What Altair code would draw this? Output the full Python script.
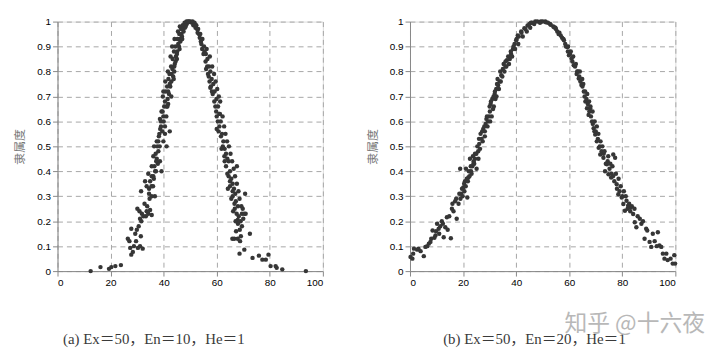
import altair as alt
import pandas as pd

# Panel (a): Ex=50, En=10, He=1
a_x = [12.5, 16.2, 19.4, 20.3, 21.8, 23.9, 26.5, 27.1, 27.4, 27.8, 28.4, 27.8, 29.3, 29.9, 30.3, 31.1, 32.1,
       30.1, 30.9, 31.1, 31.8, 32.8, 33.3, 33.6, 34.2, 34.9, 35.5, 31.5, 33.0, 33.6, 34.2, 34.5, 34.9, 35.5,
       36.1, 36.7, 37.1, 35.5, 36.1, 36.4, 37.4, 38.0, 38.6, 39.2, 37.4, 38.4, 39.0, 39.9, 40.5, 41.1, 38.6,
       39.2, 39.9, 40.5, 39.7, 41.1, 41.7, 42.3, 42.9, 41.7, 42.3, 42.9, 43.6, 43.3, 44.2, 44.6, 45.1, 45.5,
       46.1, 46.7, 47.3, 48.3, 49.2, 50.4, 51.7, 52.6, 53.3, 54.0, 54.5, 55.0, 55.8, 56.0, 56.7, 57.3, 57.6,
       58.5, 59.1, 59.8, 60.4, 61.0, 61.6, 62.3, 62.9, 63.5, 64.5, 65.0, 66.0, 66.7, 67.5, 67.9, 68.7, 69.1,
       66.6, 67.9, 68.6, 70.4, 72.5, 70.7, 70.9, 67.6, 73.5, 75.9, 77.2, 78.5, 79.5, 80.3, 82.2, 82.6, 84.7,
       93.6,
       44.0, 44.5, 45.0, 45.8, 46.3, 46.9, 47.5, 48.0, 48.7, 49.5, 50.0, 50.8, 51.2, 52.0, 52.8, 53.6, 54.2,
       55.4, 56.4, 57.0, 57.8, 58.2, 59.5, 60.0, 43.0, 42.5, 42.0, 41.5, 44.0, 45.0, 46.0, 47.0, 43.8, 41.0,
       40.0, 40.5, 39.5, 38.0, 38.5, 37.0, 37.8, 36.5, 35.5, 36.0, 34.5, 60.7, 61.5, 62.0, 62.5, 63.0, 63.5,
       64.0, 64.5, 65.0, 65.5, 66.0, 66.5, 67.0, 67.2, 68.0, 68.3, 69.0, 69.5, 61.0, 60.0, 61.8, 63.0, 64.0,
       65.0, 66.0, 64.2, 65.5, 66.8, 68.0, 67.3, 69.5, 70.0,
       40.8, 41.3, 41.8, 42.2, 42.8, 43.4, 43.9, 44.4, 45.2, 45.9, 46.6, 47.2, 47.9, 48.6, 49.2, 42.6, 43.2,
       44.1, 45.4, 46.1, 41.6, 40.6, 39.9, 40.2, 41.4, 39.6, 39.0, 38.7, 38.2, 37.6, 37.2, 36.8, 36.3, 35.4,
       34.7, 33.8, 32.4, 31.6, 30.6, 29.6, 28.8, 31.4,
       50.9, 51.6, 52.3, 53.0, 53.8, 54.6, 55.2, 55.9, 56.5, 57.1, 57.6, 58.1, 58.7, 59.2, 59.9, 60.5, 61.2,
       56.2, 57.4, 58.3, 59.0, 59.6, 60.2, 60.8, 61.3, 62.2, 62.8, 63.3, 63.9, 64.6, 65.2, 65.8, 66.4, 66.9,
       67.6, 68.2, 68.6, 69.3, 69.8, 70.3, 66.2, 67.1, 65.9, 68.8]
a_y = [0.0, 0.016, 0.009, 0.016, 0.02, 0.024, 0.13, 0.12, 0.093, 0.066, 0.077, 0.17, 0.15, 0.166, 0.093, 0.10, 0.09,
       0.25, 0.24, 0.21, 0.23, 0.27, 0.22, 0.24, 0.23, 0.245, 0.225, 0.32, 0.36, 0.34, 0.39, 0.31, 0.36, 0.30,
       0.38, 0.30, 0.40, 0.42, 0.46, 0.50, 0.45, 0.48, 0.44, 0.40, 0.52, 0.55, 0.58, 0.52, 0.55, 0.50, 0.61,
       0.64, 0.62, 0.68, 0.70, 0.66, 0.67, 0.56, 0.70, 0.72, 0.75, 0.76, 0.78, 0.81, 0.83, 0.86, 0.88, 0.91,
       0.93, 0.95, 0.97, 0.98, 0.997, 0.997, 0.99, 0.97, 0.95, 0.92, 0.89, 0.87, 0.84, 0.81, 0.79, 0.76, 0.735,
       0.71, 0.68, 0.64, 0.60, 0.58, 0.54, 0.50, 0.46, 0.42, 0.38, 0.34, 0.30, 0.27, 0.23, 0.205, 0.166, 0.14,
       0.13, 0.13, 0.07, 0.086, 0.15, 0.31, 0.23, 0.42, 0.053, 0.062, 0.046, 0.046, 0.066, 0.02, 0.02, 0.013, 0.007,
       0.0,
       0.82, 0.84, 0.87, 0.90, 0.92, 0.94, 0.96, 0.975, 0.99, 1.0, 1.0, 0.995, 0.985, 0.975, 0.955, 0.935, 0.91,
       0.88, 0.82, 0.78, 0.74, 0.72, 0.66, 0.62, 0.79, 0.74, 0.71, 0.69, 0.80, 0.85, 0.89, 0.93, 0.77, 0.62,
       0.60, 0.58, 0.56, 0.52, 0.50, 0.47, 0.43, 0.42, 0.38, 0.34, 0.33, 0.56, 0.60, 0.55, 0.52, 0.49, 0.47,
       0.45, 0.44, 0.40, 0.37, 0.35, 0.33, 0.31, 0.28, 0.26, 0.22, 0.20, 0.18, 0.63, 0.57, 0.49, 0.44, 0.39,
       0.36, 0.32, 0.33, 0.29, 0.25, 0.19, 0.16, 0.23, 0.21,
       0.72, 0.74, 0.77, 0.79, 0.82, 0.85, 0.88, 0.90, 0.93, 0.95, 0.97, 0.985, 0.995, 1.0, 1.0, 0.86, 0.90,
       0.93, 0.96, 0.98, 0.80, 0.76, 0.72, 0.66, 0.66, 0.64, 0.60, 0.57, 0.54, 0.50, 0.44, 0.40, 0.37, 0.34,
       0.29, 0.26, 0.22, 0.20, 0.18, 0.12, 0.10, 0.14,
       1.0, 0.995, 0.985, 0.97, 0.95, 0.93, 0.90, 0.87, 0.85, 0.82, 0.80, 0.77, 0.75, 0.72, 0.69, 0.66, 0.63,
       0.89, 0.86, 0.82, 0.79, 0.76, 0.73, 0.70, 0.68, 0.62, 0.58, 0.55, 0.52, 0.50, 0.47, 0.44, 0.41, 0.38,
       0.35, 0.32, 0.29, 0.26, 0.25, 0.23, 0.24, 0.20, 0.13, 0.12]

# Panel (b): Ex=50, En=20, He=1
b_x = [0.2, 0.9, 1.5, 2.7, 4.0, 5.2, 5.8, 7.1, 7.7, 8.5, 9.2, 9.6, 10.2, 10.8, 11.4, 12.0, 12.7, 13.3, 13.9, 14.2,
       15.4, 15.8, 16.4, 17.0, 17.6, 18.3, 18.9, 19.3, 20.1, 20.7, 21.1, 21.6, 22.0, 22.6, 23.2, 23.9, 24.5,
       25.1, 25.7, 26.1, 26.6, 27.6, 28.2, 28.8, 29.4, 30.1, 30.4, 31.0, 31.3, 31.9, 32.5, 33.2, 33.8, 34.4,
       35.0, 35.3, 36.0, 36.5, 37.3, 38.1, 38.8, 39.4, 40.0, 40.6, 41.9, 43.1, 44.3, 45.6, 47.2, 49.3, 51.2,
       53.0, 54.3, 55.5, 56.8, 58.0, 59.3, 59.9, 60.9, 61.7, 63.0, 63.6, 64.6, 65.5, 66.1, 66.7, 67.3, 67.9,
       68.6, 69.2, 69.8, 70.4, 71.1, 71.7, 72.9, 73.5, 74.2, 74.8, 75.8, 76.6, 77.3, 77.9, 78.5, 79.8, 80.4,
       81.0, 81.6, 82.2, 83.2, 84.1, 84.7, 85.3, 86.6, 87.2, 88.4, 89.4, 90.3, 90.9, 91.5, 93.4, 94.0, 94.7,
       95.3, 95.9, 97.1, 99.0, 99.6, 99.9,
       36.0, 37.0, 38.0, 39.0, 40.2, 41.0, 42.0, 43.5, 45.0, 46.0, 48.0, 50.0, 52.0, 54.0, 55.0, 56.0, 57.3,
       58.5, 59.5, 60.3, 61.2, 62.2, 62.8, 63.8, 64.2, 65.0, 65.8, 66.5, 67.0, 67.6, 68.2, 68.9, 69.5, 70.0,
       70.8, 71.5, 72.2, 73.0, 34.0, 33.0, 32.8, 32.0, 31.5, 30.5, 30.0, 29.8, 29.0, 28.5, 28.0, 27.2, 27.0,
       26.0, 25.4, 25.0, 24.5, 24.0, 23.5, 23.0, 22.4, 21.8, 21.0, 20.5, 19.8, 19.0, 79.0, 80.0, 78.0, 77.0,
       76.0, 75.2, 74.5, 73.8, 82.0, 83.0, 76.5,
       1.2, 3.2, 6.5, 8.0, 9.8, 11.0, 12.4, 14.8, 16.0, 17.4, 18.6, 19.6, 20.4, 21.4, 22.2, 22.9, 23.7, 24.2,
       25.8, 26.4, 27.4, 28.2, 29.2, 30.2, 30.8, 31.6, 32.2, 32.6, 33.5, 34.2, 34.8, 35.6, 36.3, 37.6, 38.5,
       39.6, 40.8, 42.5, 44.0, 45.3, 46.8, 49.0,
       51.0, 52.8, 54.8, 56.3, 57.8, 58.8, 59.6, 60.6, 61.5, 62.5, 63.3, 64.0, 64.9, 65.3, 66.0, 66.8, 67.5,
       68.0, 68.8, 69.6, 70.4, 71.0, 71.8, 72.5, 73.3, 74.7, 75.5, 76.3, 77.6, 78.6, 79.4, 80.6, 81.3, 82.6,
       83.6, 84.6, 85.8, 87.8, 89.0, 92.2, 93.0, 96.6, 98.2]
b_y = [0.057, 0.05, 0.09, 0.086, 0.08, 0.06, 0.097, 0.11, 0.117, 0.163, 0.134, 0.143, 0.19, 0.17, 0.18, 0.20,
       0.136, 0.176, 0.216, 0.166, 0.132, 0.25, 0.24, 0.28, 0.21, 0.27, 0.41, 0.31, 0.335, 0.36, 0.41, 0.295,
       0.375, 0.45, 0.39, 0.43, 0.47, 0.41, 0.48, 0.51, 0.55, 0.57, 0.54, 0.61, 0.60, 0.64, 0.67, 0.69, 0.65,
       0.71, 0.73, 0.745, 0.76, 0.785, 0.81, 0.83, 0.82, 0.845, 0.83, 0.87, 0.89, 0.91, 0.925, 0.944, 0.96,
       0.973, 0.984, 0.995, 1.0, 1.0, 0.997, 0.987, 0.977, 0.96, 0.944, 0.925, 0.898, 0.865, 0.852, 0.825, 0.80,
       0.772, 0.746, 0.72, 0.68, 0.653, 0.626, 0.653, 0.60, 0.573, 0.547, 0.52, 0.494, 0.467, 0.454, 0.40,
       0.428, 0.388, 0.375, 0.467, 0.454, 0.348, 0.308, 0.295, 0.269, 0.242, 0.282, 0.262, 0.255, 0.229, 0.196,
       0.176, 0.21, 0.19, 0.13, 0.163, 0.117, 0.097, 0.15, 0.156, 0.103, 0.097, 0.07, 0.05, 0.044, 0.03, 0.064,
       0.03,
       0.84, 0.86, 0.88, 0.90, 0.93, 0.94, 0.955, 0.97, 0.99, 0.995, 1.0, 1.0, 0.995, 0.98, 0.97, 0.95, 0.935,
       0.91, 0.88, 0.87, 0.84, 0.82, 0.79, 0.78, 0.76, 0.74, 0.70, 0.69, 0.67, 0.64, 0.62, 0.59, 0.56, 0.56,
       0.53, 0.50, 0.48, 0.47, 0.80, 0.77, 0.75, 0.72, 0.70, 0.68, 0.66, 0.62, 0.62, 0.59, 0.58, 0.56, 0.53,
       0.53, 0.50, 0.47, 0.45, 0.44, 0.42, 0.40, 0.38, 0.36, 0.34, 0.32, 0.30, 0.29, 0.32, 0.30, 0.33, 0.36,
       0.39, 0.41, 0.44, 0.43, 0.25, 0.24, 0.38,
       0.07, 0.09, 0.10, 0.13, 0.16, 0.15, 0.19, 0.22, 0.27, 0.29, 0.31, 0.33, 0.35, 0.37, 0.40, 0.42, 0.46, 0.43,
       0.45, 0.49, 0.52, 0.56, 0.58, 0.60, 0.62, 0.66, 0.69, 0.70, 0.73, 0.76, 0.78, 0.80, 0.82, 0.85, 0.86,
       0.89, 0.91, 0.94, 0.96, 0.975, 0.99, 0.995,
       1.0, 0.99, 0.975, 0.955, 0.93, 0.90, 0.90, 0.88, 0.86, 0.83, 0.80, 0.80, 0.77, 0.75, 0.72, 0.71, 0.68,
       0.66, 0.64, 0.60, 0.58, 0.55, 0.52, 0.50, 0.48, 0.46, 0.43, 0.42, 0.39, 0.37, 0.34, 0.32, 0.30, 0.27,
       0.26, 0.25, 0.22, 0.20, 0.17, 0.12, 0.10, 0.07, 0.05]

x_ticks = [0, 20, 40, 60, 80, 100]
y_ticks = [0, 0.1, 0.2, 0.3, 0.4, 0.5, 0.6, 0.7, 0.8, 0.9, 1]
y_title = "隶属度"
cap_a = "(a)  Ex＝50，En＝10，He＝1"
cap_b = "(b)  Ex＝50，En＝20，He＝1"
watermark = "知乎 @十六夜"

W, H = 268, 252
DOT = "#363636"


def panel(xs, ys, caption, title_x):
    df = pd.DataFrame({"x": xs, "y": ys})
    pts = alt.Chart(df).mark_circle(size=20, color=DOT, opacity=1).encode(
        x=alt.X("x:Q", scale=alt.Scale(domain=[0, 100], nice=False),
                axis=alt.Axis(values=x_ticks, title=caption,
                              titleFont="Liberation Serif, Noto Sans CJK SC",
                              titleFontSize=15, titleFontWeight="normal", titleColor="#3a3a3a",
                              titleAnchor="start", titleAlign="left", titleX=title_x, titleY=68,
                              titleBaseline="middle",
                              grid=True, gridDash=[5, 4], gridColor="#a6a6a6")),
        y=alt.Y("y:Q", scale=alt.Scale(domain=[0, 1], nice=False),
                axis=alt.Axis(values=y_ticks, format="~g", title=y_title,
                              titleFont="Noto Sans CJK SC", titleFontSize=12,
                              titleFontWeight="normal", titleColor="#777", titlePadding=10,
                              grid=True, gridDash=[5, 4], gridColor="#a6a6a6")),
    )
    return pts.properties(width=W, height=H)


left = panel(a_x, a_y, cap_a, 5)
right_pts = panel(b_x, b_y, cap_b, 33)
wm = alt.Chart(pd.DataFrame({"t": [watermark]})).mark_text(
    align="left", baseline="middle", font="Noto Sans CJK SC", fontSize=23, color="#b8b8b8"
).encode(text="t:N", x=alt.value(156), y=alt.value(305))
right = alt.layer(right_pts, wm)

chart = alt.hconcat(left, right, spacing=42).properties(
    padding={"left": 5, "top": 6, "right": 5, "bottom": 5}
).configure_axis(
    domain=False, ticks=False, labelPadding=5,
    labelFont="Liberation Sans", labelFontSize=11, labelColor="#444",
).configure_view(stroke="#a8a8a8", strokeWidth=1).configure(background="white")

chart.save("out.html", embed_options={"renderer": "svg", "actions": False})
